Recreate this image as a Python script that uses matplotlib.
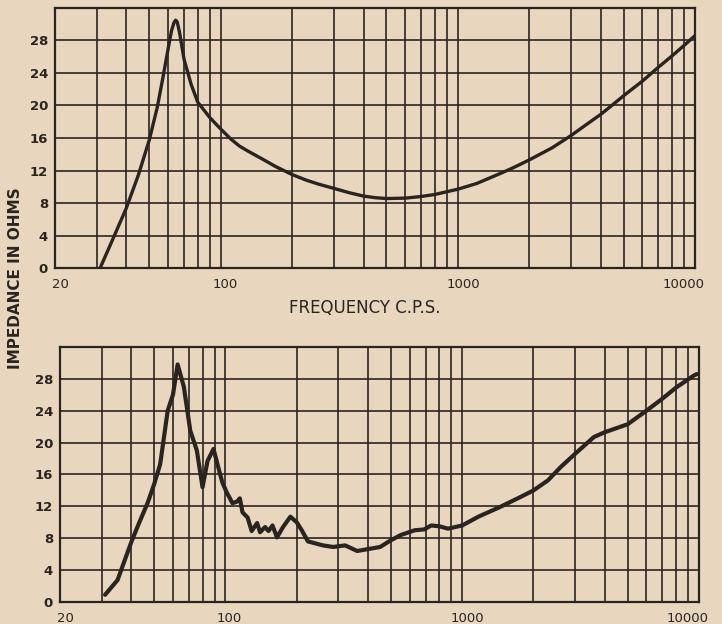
import matplotlib
matplotlib.use("Agg")
import matplotlib.pyplot as plt
from matplotlib.transforms import ScaledTranslation

# upper curve: smooth impedance of the speaker (Hz, ohms)
freq_top = [31, 35, 40, 45, 50, 54, 57, 60, 62, 63.5, 64.5, 65.5, 67, 70, 75, 80, 90, 100,
            110, 120, 130, 150, 170, 200, 230, 260, 300, 350, 400, 450, 500, 600, 700, 800,
            1000, 1200, 1500, 1700, 2000, 2500, 3000, 3500, 4000, 4500, 5000, 6000, 7000,
            8000, 9000, 10000]
ohms_top = [0, 3.5, 7.4, 11.5, 15.8, 19.8, 23.4, 27, 29.2, 30.2, 30.5, 30.3, 29, 25.7, 22.6, 20.4, 18.5, 17.1,
            15.9, 15.0, 14.4, 13.4, 12.5, 11.5, 10.8, 10.3, 9.8, 9.25, 8.85, 8.65, 8.55, 8.6, 8.8, 9.05,
            9.7, 10.4, 11.6, 12.3, 13.3, 14.8, 16.3, 17.7, 18.9, 20.1, 21.2, 23.0, 24.7,
            26.1, 27.4, 28.6]

# lower curve: measured impedance with the wiggles
freq_bot = [31, 35, 40, 43, 47, 50, 53, 57, 60, 62.8, 66.7, 71, 75.7, 80, 84, 89, 94, 97, 101,
            107, 112, 115, 118, 124, 129, 136, 140, 147, 152, 158, 165, 175, 188, 200, 210,
            223, 258, 285, 320, 360, 450, 500, 550, 630, 690, 740, 800, 870, 1000, 1170,
            1440, 1770, 2000, 2300, 2600, 3000, 3600, 4000, 5000, 6000, 7000, 8000, 9500, 9800]
ohms_bot = [0.9, 2.75, 7.5, 9.8, 12.5, 14.8, 17.3, 24, 26, 29.8, 27, 21.5, 19, 14.4, 17.7, 19.2, 16.5, 15.0, 13.8,
            12.4, 12.6, 13.0, 11.25, 10.6, 8.9, 9.9, 8.75, 9.4, 8.9, 9.6, 8.1, 9.4, 10.7, 10.0, 9.0,
            7.6, 7.1, 6.9, 7.1, 6.4, 6.9, 7.75, 8.4, 9.0, 9.1, 9.6, 9.5, 9.2, 9.6, 10.7,
            11.9, 13.2, 14.0, 15.25, 16.9, 18.6, 20.7, 21.3, 22.3, 24, 25.5, 26.9, 28.4, 28.6]

x_ticks = [20, 100, 1000, 10000]
x_labels = ['20', '100', '1000', '10000']
x_grid = [f * d for d in (10, 100, 1000) for f in range(2, 10)] + [100, 1000, 10000]
y_ticks = [0, 4, 8, 12, 16, 20, 24, 28]

paper = '#e8d7be'
ink = '#2a2420'

plt.rcParams['font.family'] = ['DejaVu Sans']
fig = plt.figure(figsize=(7.22, 6.24), dpi=100, facecolor=paper)

ax_top = fig.add_axes([0.0762, 0.5705, 0.8864, 0.4167])
ax_bot = fig.add_axes([0.0831, 0.0353, 0.885, 0.4087])

for ax, f, z, lw in ((ax_top, freq_top, ohms_top, 2.4), (ax_bot, freq_bot, ohms_bot, 3.0)):
    ax.set_facecolor(paper)
    ax.set_xscale('log')
    ax.set_xlim(20, 10000)
    ax.set_ylim(0, 32)
    ax.set_xticks(x_grid, minor=True)
    ax.set_xticks(x_ticks, x_labels)
    ax.set_yticks(y_ticks)
    ax.tick_params(which='both', length=0, colors=ink)
    ax.tick_params(axis='x', pad=7, labelsize=9.5)
    ax.tick_params(axis='y', pad=5, labelsize=9.5)
    for lab in ax.get_yticklabels():
        lab.set_fontweight('bold')
    ax.grid(which='both', color=ink, linewidth=1.2)
    ax.set_axisbelow(True)
    for sp in ax.spines.values():
        sp.set_color(ink)
        sp.set_linewidth(1.6)
    ax.plot(f, z, color=ink, linewidth=lw, solid_joinstyle='round', solid_capstyle='round')
    # nudge x labels a little like the printed scale
    shifts = [5, 4, 5, -11]
    for lab, dx in zip(ax.get_xticklabels(), shifts):
        lab.set_transform(lab.get_transform() + ScaledTranslation(dx / 100, 0, fig.dpi_scale_trans))

fig.text(0.5055, 0.506, 'FREQUENCY C.P.S.', ha='center', va='center', fontsize=12, color=ink)
fig.text(0.021, 0.5545, 'IMPEDANCE IN OHMS', rotation=90, ha='center', va='center',
         fontsize=11, fontweight='bold', color=ink)

fig.savefig('out.png', dpi=100, facecolor=paper)
